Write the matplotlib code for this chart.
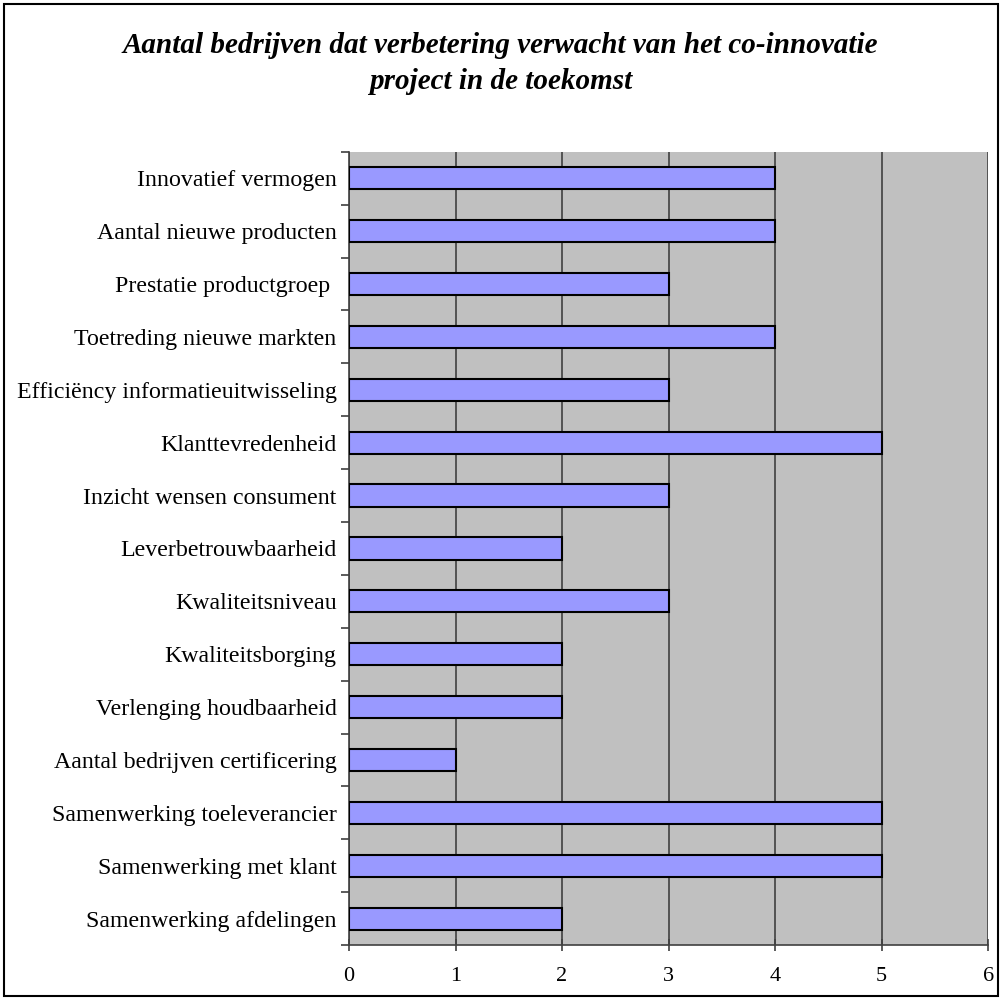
import matplotlib.pyplot as plt
from matplotlib.patches import Rectangle

categories = [
    "Innovatief vermogen",
    "Aantal nieuwe producten",
    "Prestatie productgroep ",
    "Toetreding nieuwe markten",
    "Efficiëncy informatieuitwisseling",
    "Klanttevredenheid",
    "Inzicht wensen consument",
    "Leverbetrouwbaarheid",
    "Kwaliteitsniveau",
    "Kwaliteitsborging",
    "Verlenging houdbaarheid",
    "Aantal bedrijven certificering",
    "Samenwerking toeleverancier",
    "Samenwerking met klant",
    "Samenwerking afdelingen",
]
values = [4, 4, 3, 4, 3, 5, 3, 2, 3, 2, 2, 1, 5, 5, 2]
x_ticks = [0, 1, 2, 3, 4, 5, 6]

title = "Aantal bedrijven dat verbetering verwacht van het co-innovatie\nproject in de toekomst"

plt.rcParams['font.family'] = ['Liberation Serif', 'DejaVu Serif']

fig = plt.figure(figsize=(10.01, 9.99), dpi=100)
fig.patches.append(Rectangle((0.004, 0.003), 0.993, 0.993, transform=fig.transFigure,
                             fill=False, edgecolor='black', linewidth=1.5))

ax = fig.add_axes([0.3487, 0.054, 0.6384, 0.794])
ax.set_facecolor('#c0c0c0')

n = len(categories)
ypos = list(range(n))[::-1]
ax.barh(ypos, values, height=0.42, color='#9999ff', edgecolor='black', linewidth=1.5, zorder=3)

ax.set_xlim(0, 6)
ax.set_ylim(-0.5, n - 0.5)
ax.set_xticks(x_ticks)
ax.set_xticklabels([str(t) for t in x_ticks], fontsize=16)
ax.xaxis.grid(True, color='#404040', linewidth=1.2, zorder=1)
ax.set_axisbelow(True)

ax.set_yticks(ypos)
ax.set_yticklabels(categories, fontsize=17.2)
ax.set_yticks([i - 0.5 for i in range(n + 1)], minor=True)
ax.tick_params(axis='y', which='major', length=0, pad=9)
ax.tick_params(axis='y', which='minor', length=6, width=1.2, direction='out', color='#404040')
ax.tick_params(axis='x', length=8, width=1.2, direction='inout', pad=12, color='#404040')

for side in ['top', 'right']:
    ax.spines[side].set_visible(False)
for side in ['left', 'bottom']:
    ax.spines[side].set_color('#404040')
    ax.spines[side].set_linewidth(1.2)

fig.text(0.5, 0.968, title, ha='center', va='top', fontsize=21,
         fontweight='bold', fontstyle='italic', linespacing=1.42)

fig.savefig('out.png', dpi=100)
